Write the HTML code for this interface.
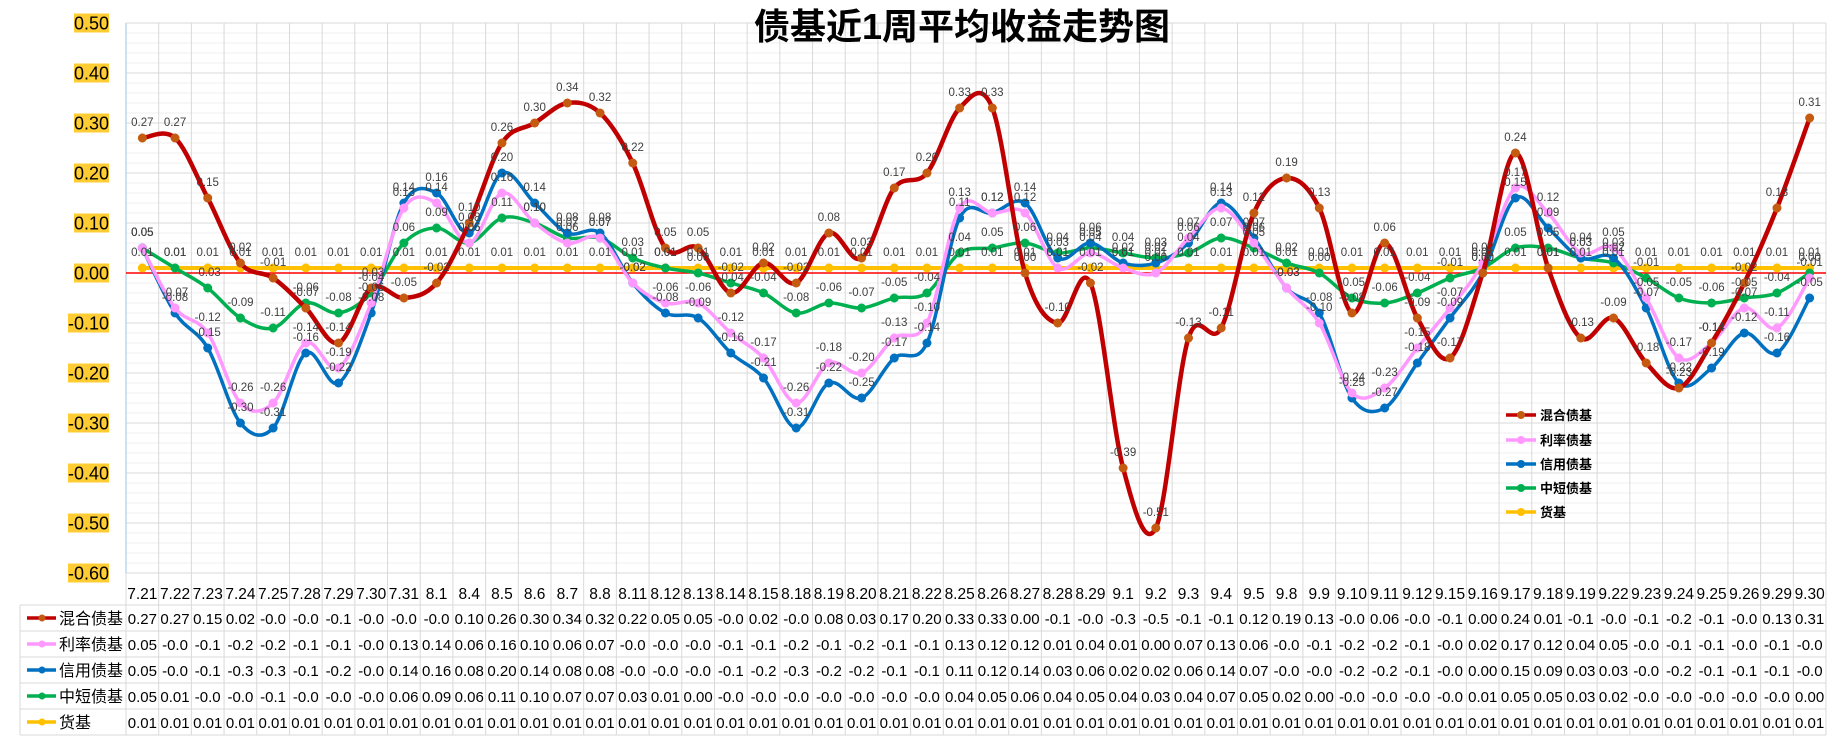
<!DOCTYPE html>
<html><head><meta charset="utf-8"><style>
html,body{margin:0;padding:0;background:#fff;}
svg{display:block;font-family:"Liberation Sans","Noto Sans CJK SC",sans-serif;}
</style></head><body>
<svg id="c" width="1844" height="736"></svg>
<script>
const categories=["7.21","7.22","7.23","7.24","7.25","7.28","7.29","7.30","7.31","8.1","8.4","8.5","8.6","8.7","8.8","8.11","8.12","8.13","8.14","8.15","8.18","8.19","8.20","8.21","8.22","8.25","8.26","8.27","8.28","8.29","9.1","9.2","9.3","9.4","9.5","9.8","9.9","9.10","9.11","9.12","9.15","9.16","9.17","9.18","9.19","9.22","9.23","9.24","9.25","9.26","9.29","9.30"];
const hybridValues=[0.27,0.27,0.15,0.02,-0.01,-0.07,-0.14,-0.03,-0.05,-0.02,0.10,0.26,0.30,0.34,0.32,0.22,0.05,0.05,-0.04,0.02,-0.02,0.08,0.03,0.17,0.20,0.33,0.33,0.00,-0.10,-0.02,-0.39,-0.51,-0.13,-0.11,0.12,0.19,0.13,-0.08,0.06,-0.09,-0.17,0.00,0.24,0.01,-0.13,-0.09,-0.18,-0.23,-0.14,-0.02,0.13,0.31];
const rateValues=[0.05,-0.07,-0.12,-0.26,-0.26,-0.14,-0.19,-0.06,0.13,0.14,0.06,0.16,0.10,0.06,0.07,-0.02,-0.06,-0.06,-0.12,-0.17,-0.26,-0.18,-0.20,-0.13,-0.10,0.13,0.12,0.12,0.01,0.04,0.01,0.00,0.07,0.13,0.06,-0.03,-0.10,-0.24,-0.23,-0.15,-0.07,0.02,0.17,0.12,0.04,0.05,-0.05,-0.17,-0.14,-0.07,-0.11,-0.01];
const creditValues=[0.05,-0.08,-0.15,-0.30,-0.31,-0.16,-0.22,-0.08,0.14,0.16,0.08,0.20,0.14,0.08,0.08,-0.02,-0.08,-0.09,-0.16,-0.21,-0.31,-0.22,-0.25,-0.17,-0.14,0.11,0.12,0.14,0.03,0.06,0.02,0.02,0.06,0.14,0.07,-0.03,-0.08,-0.25,-0.27,-0.18,-0.09,0.00,0.15,0.09,0.03,0.03,-0.07,-0.22,-0.19,-0.12,-0.16,-0.05];
const shortValues=[0.05,0.01,-0.03,-0.09,-0.11,-0.06,-0.08,-0.04,0.06,0.09,0.06,0.11,0.10,0.07,0.07,0.03,0.01,0.00,-0.02,-0.04,-0.08,-0.06,-0.07,-0.05,-0.04,0.04,0.05,0.06,0.04,0.05,0.04,0.03,0.04,0.07,0.05,0.02,0.00,-0.05,-0.06,-0.04,-0.01,0.01,0.05,0.05,0.03,0.02,-0.01,-0.05,-0.06,-0.05,-0.04,0.00];
const moneyValues=[0.01,0.01,0.01,0.01,0.01,0.01,0.01,0.01,0.01,0.01,0.01,0.01,0.01,0.01,0.01,0.01,0.01,0.01,0.01,0.01,0.01,0.01,0.01,0.01,0.01,0.01,0.01,0.01,0.01,0.01,0.01,0.01,0.01,0.01,0.01,0.01,0.01,0.01,0.01,0.01,0.01,0.01,0.01,0.01,0.01,0.01,0.01,0.01,0.01,0.01,0.01,0.01];
const seriesNames=["混合债基","利率债基","信用债基","中短债基","货基"];
const yTicks=[0.5,0.4,0.3,0.2,0.1,0,-0.1,-0.2,-0.3,-0.4,-0.5,-0.6];

const NS="http://www.w3.org/2000/svg";
const svg=document.getElementById('c');
const L=126,R=1826,T=23,B=573,N=categories.length,CW=(R-L)/N;
const yMax=0.5,yMin=-0.6;
function xPos(i){return L+CW*(i+0.5);}
function yPos(v){return T+(yMax-v)/(yMax-yMin)*(B-T);}
function el(tag,attrs,parent){const e=document.createElementNS(NS,tag);for(const k in attrs)e.setAttribute(k,attrs[k]);(parent||svg).appendChild(e);return e;}

const series=[
 {name:seriesNames[0],vals:hybridValues,color:"#C00000",w:4.5,mk:"#C55A11",key:"hybrid"},
 {name:seriesNames[1],vals:rateValues,color:"#FF99FF",w:3.5,mk:"#FF99FF",key:"rate"},
 {name:seriesNames[2],vals:creditValues,color:"#0070C0",w:3.5,mk:"#0070C0",key:"credit"},
 {name:seriesNames[3],vals:shortValues,color:"#00B050",w:3.5,mk:"#00B050",key:"short"},
 {name:seriesNames[4],vals:moneyValues,color:"#FFC000",w:4,mk:"#FFC000",key:"money"}
];

for(let v=yMin;v<=yMax+1e-9;v+=0.02){
 const g=el('line',{x1:L,x2:R,y1:yPos(v),y2:yPos(v),stroke:"#efefef","stroke-width":1});
 
 
}
for(let i=0;i<=N;i++){
 const x=L+CW*i;
 const g=el('line',{x1:x,x2:x,y1:T,y2:735,stroke:"#d9d9d9","stroke-width":1});
 
 
}
yTicks.forEach(v=>{
 const y=yPos(v);
 const g=el('line',{x1:L,x2:R,y1:y,y2:y,stroke:"#d9d9d9","stroke-width":1});
 
 
 const bg=el('rect',{x:76,y:y-9.5,width:33,height:19,fill:"#FFCC33"});
 
 
 const t=el('text',{x:109,y:y+6.5,"text-anchor":"end","font-size":18,fill:"#000"});
 t.textContent=v.toFixed(2);
 
 
 const w=t.getComputedTextLength();
 bg.setAttribute('x',109-w);
 bg.setAttribute('width',w);
});
const ax=el('line',{x1:L,x2:L,y1:T,y2:B,stroke:"#bdd7ee","stroke-width":1.5});


const zl=el('line',{x1:L,x2:R,y1:yPos(0),y2:yPos(0),stroke:"#FF0000","stroke-width":1.5});



const ti=el('text',{x:962,y:39,"text-anchor":"middle","font-size":36,"font-weight":"bold",fill:"#000"});
ti.textContent="债基近1周平均收益走势图";



function smoothPath(pts){
 let d=`M${pts[0][0]},${pts[0][1]}`;
 for(let i=0;i<pts.length-1;i++){
  const p0=pts[i-1]||pts[i],p1=pts[i],p2=pts[i+1],p3=pts[i+2]||p2;
  const t=1/6;
  const c1=[p1[0]+(p2[0]-p0[0])*t,p1[1]+(p2[1]-p0[1])*t];
  const c2=[p2[0]-(p3[0]-p1[0])*t,p2[1]-(p3[1]-p1[1])*t];
  d+=` C${c1[0]},${c1[1]} ${c2[0]},${c2[1]} ${p2[0]},${p2[1]}`;
 }
 return d;
}
const order=[4,3,2,1,0];
order.forEach(si=>{
 const s=series[si];
 const pts=s.vals.map((v,i)=>[xPos(i),yPos(v)]);
 const p=el('path',{d:smoothPath(pts),fill:"none",stroke:s.color,"stroke-width":s.w,"stroke-linejoin":"round"});
 
 
 pts.forEach(pt=>{
  const c=el('circle',{cx:pt[0],cy:pt[1],r:4.5,fill:s.mk});
  
  
 });
});
series.forEach(s=>{
 s.vals.forEach((v,i)=>{
  const t=el('text',{x:xPos(i),y:yPos(v)-12,"text-anchor":"middle","font-size":11.5,fill:"#404040"});
  t.textContent=v.toFixed(2);
  
  
 });
});
series.forEach((s,k)=>{
 const y=[415,440,464,488,512][k];
 const l=el('line',{x1:1506,x2:1536,y1:y,y2:y,stroke:s.color,"stroke-width":3.5});
 
 
 const c=el('circle',{cx:1521,cy:y,r:4,fill:s.mk});
 
 
 const t=el('text',{x:1540,y:y+5,"font-size":13,"font-weight":"bold",fill:"#000"});
 t.textContent=s.name;
 
 
});
const hb=el('line',{x1:L,x2:R,y1:605,y2:605,stroke:"#d9d9d9"});


categories.forEach((c,i)=>{
 const t=el('text',{x:xPos(i),y:599,"text-anchor":"middle","font-size":15.5,fill:"#000"});
 t.textContent=c;
 
 
});
series.forEach((s,k)=>{
 const top=605+26*k;
 const rl=el('line',{x1:20,x2:R,y1:top+26,y2:top+26,stroke:"#d9d9d9"});
 
 
 const lg=el('line',{x1:27,x2:56,y1:top+13,y2:top+13,stroke:s.color,"stroke-width":3.5});
 
 
 const lc=el('circle',{cx:42,cy:top+13,r:3.5,fill:s.mk});
 
 
 const nm=el('text',{x:59,y:top+19,"font-size":16,fill:"#000"});
 nm.textContent=s.name;
 
 
 s.vals.forEach((v,i)=>{
  const t=el('text',{x:xPos(i),y:top+19,"text-anchor":"middle","font-size":15,fill:"#000"});
  t.textContent=v.toFixed(2).slice(0,4);
  
  
 });
});
const lb=el('line',{x1:20,x2:20,y1:605,y2:735,stroke:"#d9d9d9"});


const tb=el('line',{x1:20,x2:L,y1:605,y2:605,stroke:"#d9d9d9"});


</script>
</body></html>
